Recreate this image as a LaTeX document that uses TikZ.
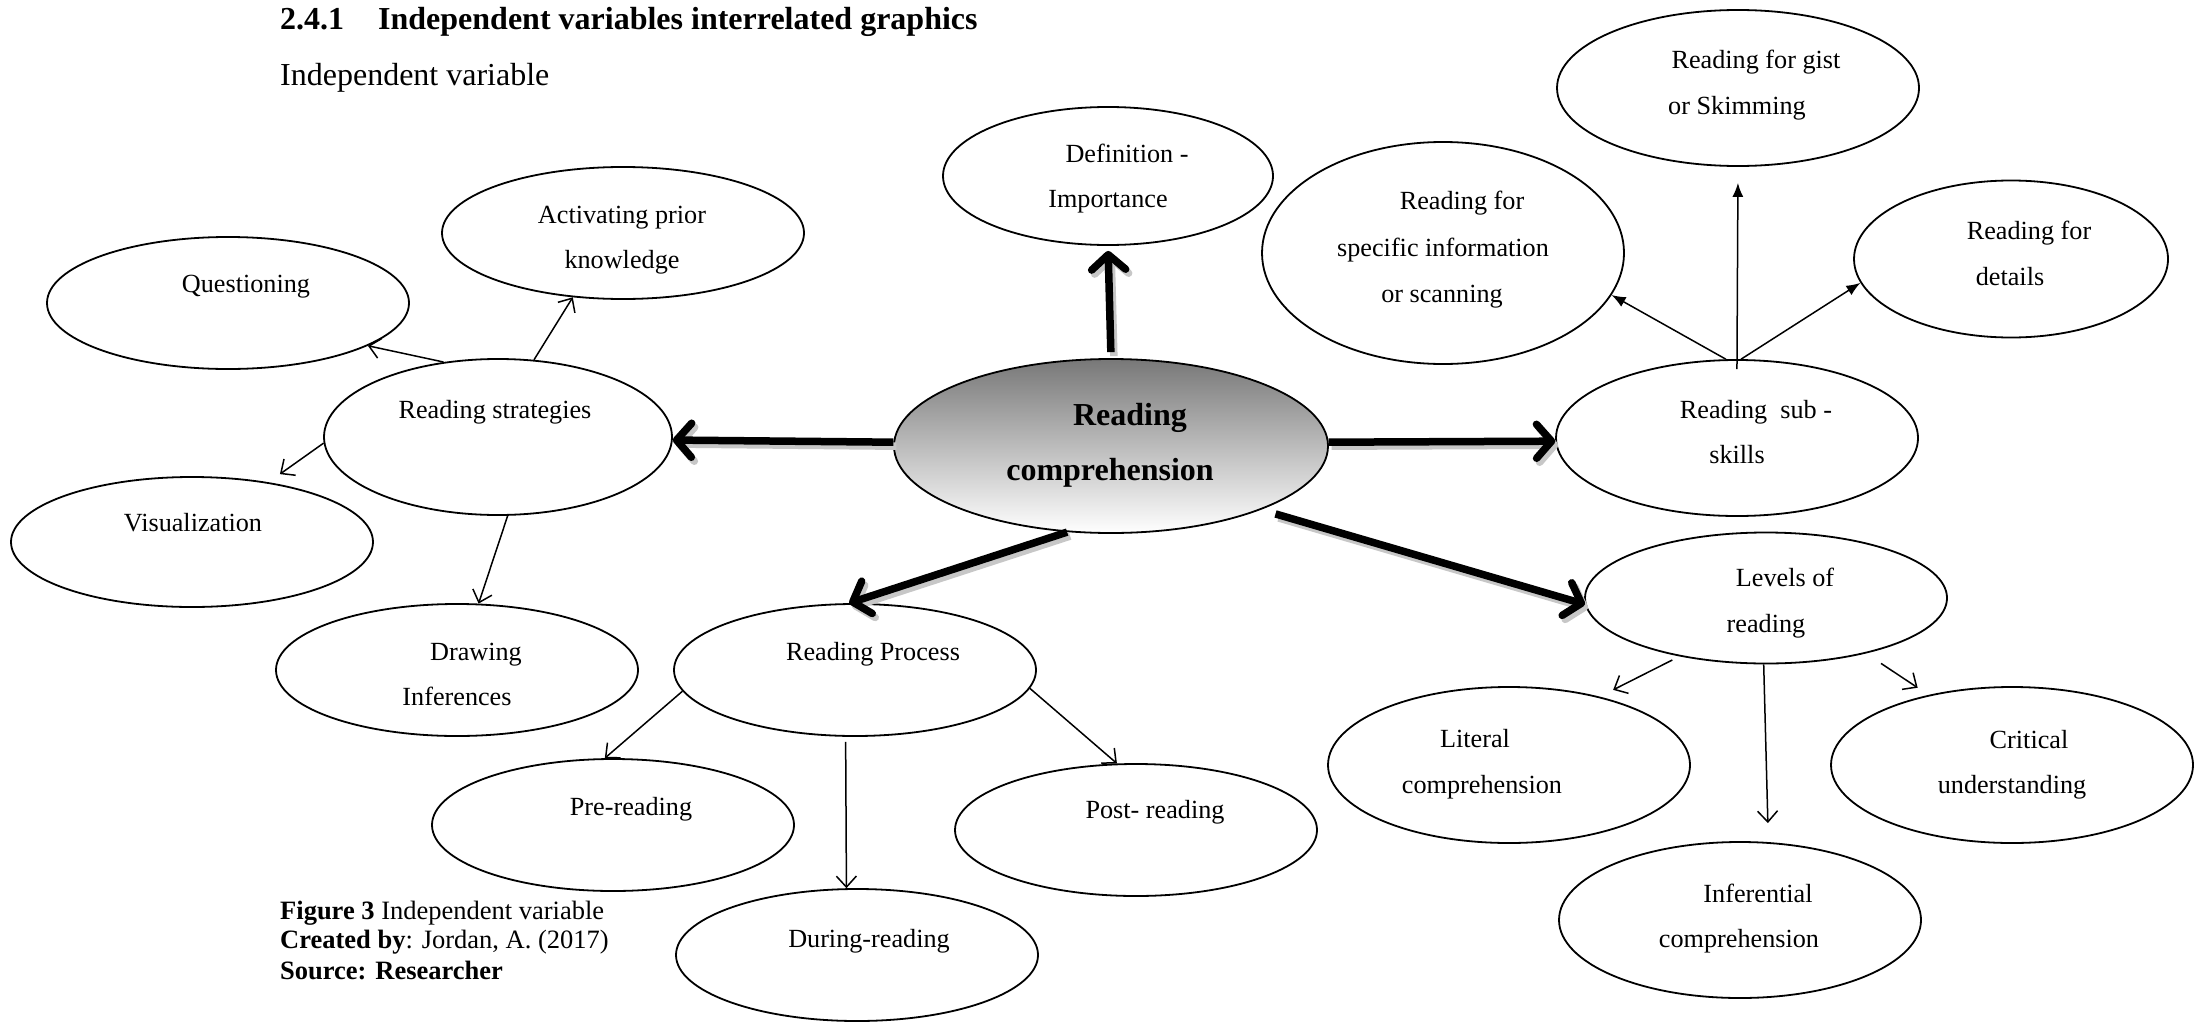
\documentclass[tikz,border=0pt]{standalone}
\usepackage{fontspec}
\setmainfont{Liberation Serif}
\usetikzlibrary{shapes.geometric,arrows.meta}
\begin{document}
\begin{tikzpicture}[x=1pt,y=-1pt,
  ell/.style={draw, ellipse, line width=1.8pt, inner sep=0pt},
  txt/.style={font=\fontsize{26.2}{30}\selectfont, inner sep=0pt, text height=18pt, text depth=6pt, yshift=-2pt},
  big32/.style={font=\fontsize{32}{38}\selectfont, inner sep=0pt, text height=22pt, text depth=7pt},
  captxt/.style={font=\fontsize{26.5}{30}\selectfont, inner sep=0pt, anchor=west, text height=18pt, text depth=6pt},
  thinarr/.style={line width=1.5pt, -{Straight Barb[length=11pt,width=20pt]}},
  filarr/.style={line width=1.5pt, -{Latex[length=14pt,width=11pt]}},
  bigarr/.style={line width=7.5pt, -{Straight Barb[length=15pt,width=34pt,round]}},
  bigshadow/.style={bigarr, draw=black!22, transform canvas={shift={(3,4)}}}
]
\useasboundingbox (0,0) rectangle (2194,1025);
\fill[white] (0,0) rectangle (2194,1025);

% title
\node[big32, font=\fontsize{32}{38}\selectfont\bfseries, anchor=west] (tnum) at (280,22) {2.4.1};
\node[big32, font=\fontsize{32}{38}\selectfont\bfseries, anchor=west] (ttl) at (378,22) {Independent variables interrelated graphics};
\node[big32, anchor=west] (subttl) at (280,78) {Independent variable};

% ellipses
\node[ell, minimum width=434pt, minimum height=174pt, top color=black!53, bottom color=white] (cen) at (1111,446) {};
\node[ell, minimum width=330pt, minimum height=138pt] (def) at (1108,176) {};
\node[ell, minimum width=362pt, minimum height=156pt] (gist) at (1738,88) {};
\node[ell, minimum width=362pt, minimum height=222pt] (spec) at (1443,253) {};
\node[ell, minimum width=314pt, minimum height=157pt] (det) at (2011,259) {};
\node[ell, minimum width=362pt, minimum height=156pt] (sub) at (1737,438) {};
\node[ell, minimum width=362pt, minimum height=131pt] (lev) at (1766,598) {};
\node[ell, minimum width=362pt, minimum height=156pt] (lit) at (1509,765) {};
\node[ell, minimum width=362pt, minimum height=156pt] (crit) at (2012,765) {};
\node[ell, minimum width=362pt, minimum height=156pt] (inf) at (1740,920) {};
\node[ell, minimum width=362pt, minimum height=132pt] (post) at (1136,830) {};
\node[ell, minimum width=362pt, minimum height=132pt] (dur) at (857,955) {};
\node[ell, minimum width=362pt, minimum height=132pt] (pre) at (613,825) {};
\node[ell, minimum width=362pt, minimum height=132pt] (proc) at (855,670) {};
\node[ell, minimum width=362pt, minimum height=132pt] (drw) at (457,670) {};
\node[ell, minimum width=362pt, minimum height=130pt] (vis) at (192,542) {};
\node[ell, minimum width=348pt, minimum height=156pt] (str) at (498,437) {};
\node[ell, minimum width=362pt, minimum height=132pt] (q) at (228,303) {};
\node[ell, minimum width=362pt, minimum height=132pt] (act) at (623,233) {};

% texts
\node[big32, font=\fontsize{32}{38}\selectfont\bfseries] (cenA) at (1130,418) {Reading};
\node[big32, font=\fontsize{32}{38}\selectfont\bfseries] (cenB) at (1110,473) {comprehension};
\node[txt] (defA) at (1127,154) {Definition -};
\node[txt] (defB) at (1108,199) {Importance};
\node[txt] (actA) at (622,215) {Activating prior};
\node[txt] (actB) at (622,260) {knowledge};
\node[txt] (qA) at (246,284) {Questioning};
\node[txt] (strA) at (495,410) {Reading strategies};
\node[txt] (visA) at (193,523) {Visualization};
\node[txt] (drwA) at (476,652) {Drawing};
\node[txt] (drwB) at (457,697) {Inferences};
\node[txt] (procA) at (873,652) {Reading Process};
\node[txt] (preA) at (631,807) {Pre-reading};
\node[txt] (durA) at (869,939) {During-reading};
\node[txt] (postA) at (1155,810) {Post- reading};
\node[txt] (subA) at (1756,410) {Reading\ \ sub -};
\node[txt] (subB) at (1737,455) {skills};
\node[txt] (levA) at (1785,578) {Levels of};
\node[txt] (levB) at (1766,624) {reading};
\node[txt] (litA) at (1475,739) {Literal};
\node[txt] (litB) at (1482,785) {comprehension};
\node[txt] (critA) at (2029,740) {Critical};
\node[txt] (critB) at (2012,785) {understanding};
\node[txt] (infA) at (1758,894) {Inferential};
\node[txt] (infB) at (1739,939) {comprehension};
\node[txt] (specA) at (1462,201) {Reading for};
\node[txt] (specB) at (1443,248) {specific information};
\node[txt] (specC) at (1442,294) {or scanning};
\node[txt] (gistA) at (1756,60) {Reading for gist};
\node[txt] (gistB) at (1737,106) {or Skimming};
\node[txt] (detA) at (2029,231) {Reading for};
\node[txt] (detB) at (2010,277) {details};

% caption
\node[captxt] (capA) at (280,913) {\textbf{Figure 3} Independent variable};
\node[captxt] (capB) at (280,942) {\textbf{Created by}: Jordan, A. (2017)};
\node[captxt] (capC) at (280,973) {\textbf{Source: Researcher}};

% thick arrows (shadows first)
\draw[bigshadow, shorten <=6pt, shorten >=5pt] (cen.north) -- (def.south);
\draw[bigshadow] (cen.179) -- (str.-1);
\draw[bigshadow] (cen.1) -- (sub.181);
\draw[bigshadow] (cen.243) -- (proc.95);
\draw[bigshadow, shorten <=15pt] (cen.-23) -- (lev.182);
\draw[bigarr, shorten <=6pt, shorten >=5pt] (cen.north) -- (def.south);
\draw[bigarr] (cen.179) -- (str.-1);
\draw[bigarr] (cen.1) -- (sub.181);
\draw[bigarr] (cen.243) -- (proc.95);
\draw[bigarr, shorten <=15pt] (cen.-23) -- (lev.182);

% thin arrows
\draw[thinarr] (str.126) -- (q.-17);
\draw[thinarr] (str.65) -- (act.232);
\draw[thinarr, shorten >=14pt] (str.182) -- (vis.38);
\draw[thinarr] (str.-83) -- (drw.72);
\draw[thinarr] (proc.187) -- (pre.97);
\draw[thinarr, shorten <=5pt] (proc.262) -- (dur.99);
\draw[thinarr] (proc.-6) -- (post.106);
\draw[thinarr, shorten <=8pt, shorten >=15pt] (lev.214) -- (lit.37);
\draw[thinarr, shorten >=19pt] (lev.268) -- (inf.70);
\draw[thinarr, shorten <=18pt, shorten >=13pt] (lev.-29) -- (crit.140);

% filled arrows
\draw[filarr] (sub.98) -- (spec.-14);
\draw[filarr, shorten <=-10pt, shorten >=16pt] (sub.north) -- (gist.south);
\draw[filarr] (sub.87) -- (det.189);
\end{tikzpicture}
\end{document}
